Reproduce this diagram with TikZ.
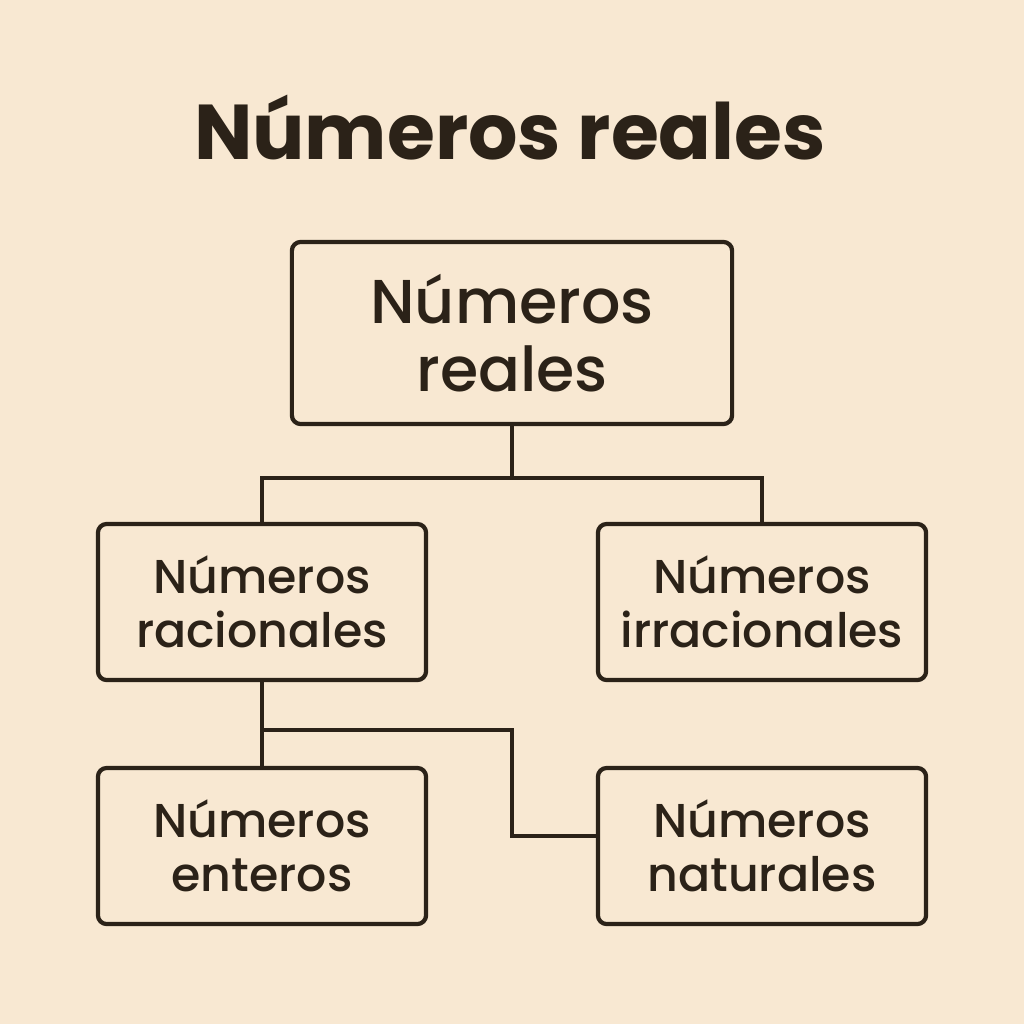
\documentclass[tikz,border=0pt]{standalone}
\usepackage{fontspec}
\setmainfont{Poppins}
\newfontfamily\medfont{Poppins Medium}
\usetikzlibrary{positioning}
\definecolor{papel}{HTML}{F8E8D2}
\definecolor{tinta}{HTML}{2B2218}
\tikzset{
	caja/.style={draw=tinta, line width=1.2pt, rounded corners=2.5pt, align=center, text=tinta, inner sep=0pt, font=\medfont\fontsize{13.5}{15.3}\selectfont, minimum width=3.28cm, minimum height=1.56cm},
	linea/.style={draw=tinta, line width=1.2pt}
}
\begin{document}
\begin{tikzpicture}[x=0.01cm, y=-0.01cm]
	\fill[papel] (0,0) rectangle (1024,1024);
	\useasboundingbox (0,0) rectangle (1024,1024);
	\node[text=tinta, font=\bfseries\fontsize{22.1}{26}\selectfont] (titulo) at (510,128) {Números reales};
	
	\node[caja, minimum width=4.4cm, minimum height=1.82cm, font=\medfont\fontsize{17.6}{19.3}\selectfont] (reales) at (512,333) {Números\\reales};
	\node[caja] (racionales) at (262,602) {Números\\racionales};
	\node[caja] (irracionales) at (762,602) {Números\\irracionales};
	\node[caja] (enteros) at (262,846) {Números\\enteros};
	\node[caja] (naturales) at (762,846) {Números\\naturales};
	
	\draw[linea] (reales.south) -- ++(0,52) coordinate (cruce) -| (racionales.north);
	\draw[linea] (cruce) -| (irracionales.north);
	\draw[linea] (racionales.south) -- (enteros.north);
	%\draw[linea] (racionales.south) -- (naturales.west);
	\coordinate (rama) at (262,730);
	\draw[linea] (rama) -| (512,800) |- ([yshift=2.8pt]naturales.west);
\end{tikzpicture}
\end{document}
